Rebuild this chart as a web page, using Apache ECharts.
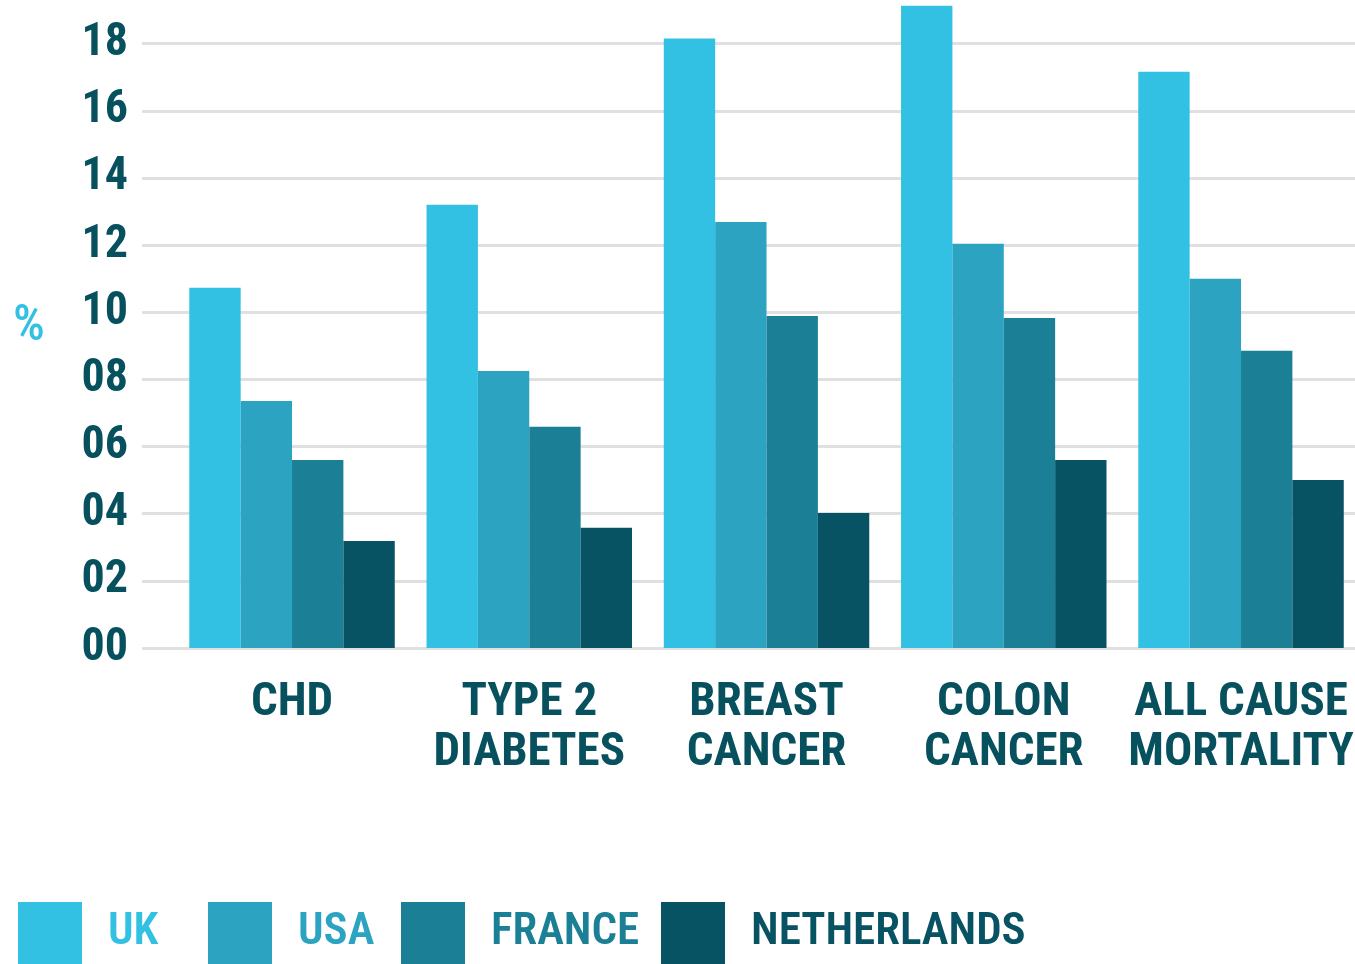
<!DOCTYPE html>
<html>
<head>
<meta charset="utf-8">
<script src="https://cdn.jsdelivr.net/npm/echarts@6/dist/echarts.min.js"></script>
<style>
html,body{margin:0;padding:0;background:#fff;}
#chart{width:1355px;height:964px;}
</style>
</head>
<body>
<div id="chart"></div>
<script>
const categories = ['CHD', 'TYPE 2\nDIABETES', 'BREAST\nCANCER', 'COLON\nCANCER', 'ALL CAUSE\nMORTALITY'];
const seriesNames = ['UK', 'USA', 'FRANCE', 'NETHERLANDS'];
const ukValues = [10.73, 13.2, 18.15, 19.13, 17.16];
const usaValues = [7.36, 8.25, 12.69, 12.04, 11.0];
const franceValues = [5.6, 6.59, 9.89, 9.83, 8.85];
const netherlandsValues = [3.19, 3.58, 4.02, 5.6, 5.0];
const yTickLabels = ['00', '02', '04', '06', '08', '10', '12', '14', '16', '18'];

const colors = ['#32c1e2', '#2ca4c1', '#1b7f96', '#075263'];
const dark = '#07505e';
const FONT = "Roboto, 'DejaVu Sans', sans-serif";
const W = 'bold extra-condensed';
const values = [ukValues, usaValues, franceValues, netherlandsValues];
const legendLeft = [18, 208, 401, 661];
const YMAX = 19.3;

const chart = echarts.init(document.getElementById('chart'));
chart.setOption({
  animation: false,
  backgroundColor: '#ffffff',
  title: {
    text: '%', left: 8, top: 297,
    textStyle: { fontFamily: FONT, fontSize: 50, fontWeight: '500 extra-condensed', color: '#33c1e3', lineHeight: 50 }
  },
  grid: [
    { left: 173.4, width: 1186.25, top: 0, bottom: 316, containLabel: false, outerBoundsMode: 'none' },
    { left: 142, right: 0, top: 0, bottom: 316, containLabel: false, outerBoundsMode: 'none' }
  ],
  xAxis: [
    {
      type: 'category', gridIndex: 0, data: categories,
      axisLine: { show: false }, axisTick: { show: false },
      axisLabel: {
        interval: 0, margin: 30, fontFamily: FONT, fontSize: 47, fontWeight: W,
        color: dark, lineHeight: 50, align: 'center'
      }
    },
    { type: 'value', gridIndex: 1, show: false, min: 0, max: 1 }
  ],
  yAxis: [
    { type: 'value', gridIndex: 0, min: 0, max: YMAX, interval: 2, show: false, splitLine: { show: false } },
    {
      type: 'value', gridIndex: 1, min: 0, max: YMAX, interval: 2,
      axisLine: { show: false }, axisTick: { show: false },
      splitLine: { show: true, showMaxLine: false, lineStyle: { color: '#e0e0e0', width: 3 } },
      axisLabel: {
        margin: 14, fontFamily: FONT, fontSize: 46, fontWeight: W, color: dark,
        showMaxLabel: false,
        formatter: function (v) {
          const i = Math.round(v / 2);
          return (Math.abs(v - i * 2) < 1e-6 && yTickLabels[i] !== undefined) ? yTickLabels[i] : '';
        }
      }
    }
  ],
  legend: seriesNames.map((name, i) => ({
    left: legendLeft[i], top: 902, orient: 'horizontal', padding: 0,
    itemWidth: 64, itemHeight: 62, icon: 'rect', selectedMode: false,
    itemStyle: { borderWidth: 0 },
    data: [{ name: name, textStyle: { color: colors[i] } }],
    textStyle: { fontFamily: FONT, fontSize: 45, fontWeight: '600 extra-condensed', padding: [5, 0, 0, 21] }
  })),
  series: seriesNames.map((name, i) => ({
    name: name, type: 'bar', xAxisIndex: 0, yAxisIndex: 0,
    data: values[i], barGap: '0%', barCategoryGap: '13.4%',
    itemStyle: { color: colors[i] }, z: 3
  }))
});
</script>
</body>
</html>
